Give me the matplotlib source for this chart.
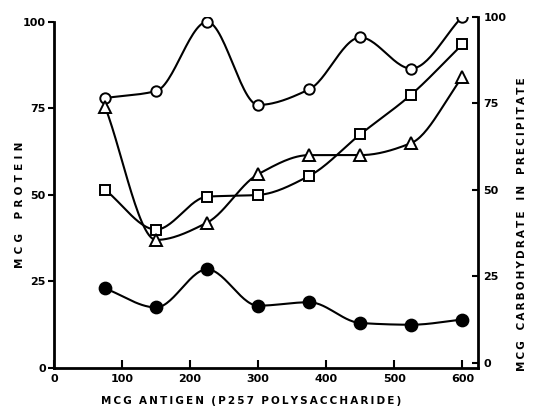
import numpy as np
import matplotlib.pyplot as plt

# ---------------- data ----------------
antigen = [75, 150, 225, 300, 375, 450, 525, 600]
open_circle = [78, 80, 100, 76, 80.5, 95.5, 86.5, 101.5]
square = [51.5, 40, 49.5, 50, 55.5, 67.5, 79, 93.5]
triangle = [75.5, 37, 42, 56, 61.5, 61.5, 65, 84]
filled_circle = [23, 17.5, 28.5, 18, 19, 13, 12.5, 14]

x_ticks = [0, 100, 200, 300, 400, 500, 600]
y_ticks = [0, 25, 50, 75, 100]


def smooth(x, y, n=30):
    # monotone cubic (fritsch-carlson) curve through the points
    x = np.asarray(x, float)
    y = np.asarray(y, float)
    h = np.diff(x)
    d = np.diff(y) / h
    m = np.zeros_like(y)
    m[0], m[-1] = d[0], d[-1]
    for i in range(1, len(x) - 1):
        if d[i-1] * d[i] > 0:
            w1 = 2*h[i] + h[i-1]
            w2 = h[i] + 2*h[i-1]
            m[i] = (w1 + w2) / (w1/d[i-1] + w2/d[i])
    xs, ys = [], []
    for i in range(len(x) - 1):
        t = np.linspace(0, 1, n)
        h00 = 2*t**3 - 3*t**2 + 1
        h10 = t**3 - 2*t**2 + t
        h01 = -2*t**3 + 3*t**2
        h11 = t**3 - t**2
        xs.append(x[i] + t*h[i])
        ys.append(h00*y[i] + h10*h[i]*m[i] + h01*y[i+1] + h11*h[i]*m[i+1])
    return np.concatenate(xs), np.concatenate(ys)


def spaced(s, gap='\u2009'):
    return gap.join(s)


plt.rcParams['font.family'] = 'DejaVu Sans'
plt.rcParams['font.weight'] = 'bold'

fig = plt.figure(figsize=(5.35, 4.09), dpi=100)
ax = fig.add_axes([54/535, 41/409, 424/535, 351/409])

lw = 1.5
for ys, mk, fc, ms in [(open_circle, 'o', 'white', 7.5),
                       (square, 's', 'white', 7),
                       (triangle, '^', 'white', 8.5),
                       (filled_circle, 'o', 'black', 8.5)]:
    sx, sy = smooth(antigen, ys)
    ax.plot(sx, sy, color='black', lw=lw, zorder=2)
    ax.plot(antigen, ys, linestyle='none', marker=mk, ms=ms, mfc=fc,
            mec='black', mew=1.4, zorder=3)

ax.set_xlim(0, 623)
ax.set_ylim(0, 101.4)
ax.set_xticks(x_ticks)
ax.set_yticks(y_ticks)
ax.tick_params(axis='x', direction='in', length=6, width=1.5, pad=4, labelsize=8)
ax.tick_params(axis='y', direction='out', length=4, width=1.5, pad=2, labelsize=8)
for lab in ax.get_xticklabels() + ax.get_yticklabels():
    lab.set_fontweight('bold')
ax.spines['top'].set_visible(False)
ax.spines['right'].set_visible(False)
ax.spines['left'].set_bounds(0, 100)
for s in ['left', 'bottom']:
    ax.spines[s].set_linewidth(2)

ax2 = ax.twinx()
ax2.set_ylim(-1.45, 100)
ax2.set_yticks(y_ticks)
ax2.tick_params(axis='y', direction='in', length=4, width=1.5, pad=4, labelsize=8)
for lab in ax2.get_yticklabels():
    lab.set_fontweight('bold')
for s in ['top', 'left', 'bottom']:
    ax2.spines[s].set_visible(False)
ax2.spines['right'].set_linewidth(2)

fig.text(251/535, 1 - 401/409,
         '  '.join(spaced(w) for w in ['MCG', 'ANTIGEN', '(P257', 'POLYSACCHARIDE)']),
         ha='center', va='center', fontsize=7.5, fontweight='bold')
fig.text(20/535, 1 - 205/409, spaced('MCG', '\u2009\u2009') + '    ' + spaced('PROTEIN', '\u2009\u2009'),
         rotation=90, ha='center', va='center', fontsize=7.5, fontweight='bold')
fig.text(522/535, 1 - 224/409,
         '   '.join(spaced(w) for w in ['MCG', 'CARBOHYDRATE', 'IN', 'PRECIPITATE']),
         rotation=90, ha='center', va='center', fontsize=7.5, fontweight='bold')

fig.savefig('out.png', dpi=100)
